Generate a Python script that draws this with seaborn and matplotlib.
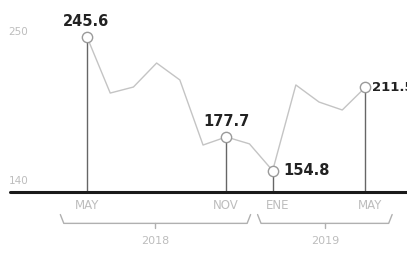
import numpy as np
import matplotlib
matplotlib.use("Agg")
import matplotlib.pyplot as plt
import pandas as pd
import seaborn as sns

# monthly values, May 2018 -> May 2019
months = ["MAY", "JUN", "JUL", "AGO", "SEP", "OCT", "NOV", "DIC",
          "ENE", "FEB", "MAR", "ABR", "MAY"]
values = [245.6, 207.5, 211.6, 227.9, 216.4, 172.2, 177.7, 173.0,
          154.8, 213.0, 201.4, 196.0, 211.5]
highlight = [0, 6, 8, 12]          # points with marker + stem + label
tick_idx = [0, 6, 8, 12]
years = ["2018", "2019"]
y_ticks = [250, 140]

df = pd.DataFrame({"i": np.arange(len(values)), "value": values})

sns.set_style("white")
fig = plt.figure(figsize=(4.07, 2.54), dpi=100)
ax = fig.add_axes([0, 0, 1, 1])

sns.lineplot(data=df, x="i", y="value", ax=ax, color="#c4c4c4", lw=1)

base = 140
hl = df.iloc[highlight]
ax.vlines(hl["i"], base, hl["value"], color="#666666", lw=1, zorder=2)
sns.scatterplot(data=hl, x="i", y="value", ax=ax, s=55, color="white",
                edgecolor="#9a9a9a", linewidth=1, zorder=4)

# axis line
ax.axhline(base, xmin=0.025, xmax=1, color="#1a1a1a", lw=2.2, zorder=3)

# value labels
lab = dict(fontsize=10.5, fontweight="bold", color="#222222")
ax.text(-0.05, values[0] + 5.5, f"{values[0]}", ha="center", va="bottom", **lab)
ax.text(6, values[6] + 5.5, f"{values[6]}", ha="center", va="bottom", **lab)
ax.text(8.45, values[8], f"{values[8]}", ha="left", va="center", **lab)
ax.text(12.27, values[12], f"{values[12]}", ha="left", va="center",
        fontsize=9.5, fontweight="bold", color="#222222")

# y labels
grey = "#bdbdbd"
for v in y_ticks:
    ax.text(-2.95, v + (8 if v == base else -1), str(v), ha="center",
            va="center", fontsize=7.5, color=grey)

# month labels
for k, i in enumerate(tick_idx):
    dx = 0.2 if k >= 2 else 0
    ax.text(i + dx, base - 9, months[i], ha="center", va="center",
            fontsize=8.5, color=grey)

# year braces
def brace(x0, x1, y, label):
    h = 6
    ax.plot([x0, x0 + 0.15, x1 - 0.15, x1], [y + h, y, y, y + h],
            color="#b0b0b0", lw=1, solid_capstyle="round")
    xm = (x0 + x1) / 2
    ax.plot([xm, xm], [y, y - 3], color="#b0b0b0", lw=1)
    ax.text(xm, y - 12, label, ha="center", va="center", fontsize=8,
            color=grey)

brace(-1.15, 7.05, 119, years[0])
brace(7.35, 13.15, 119, years[1])

ax.set_xlim(-3.75, 13.79)
ax.set_ylim(98.2, 270.7)
ax.axis("off")

fig.savefig("out.png", dpi=100)
